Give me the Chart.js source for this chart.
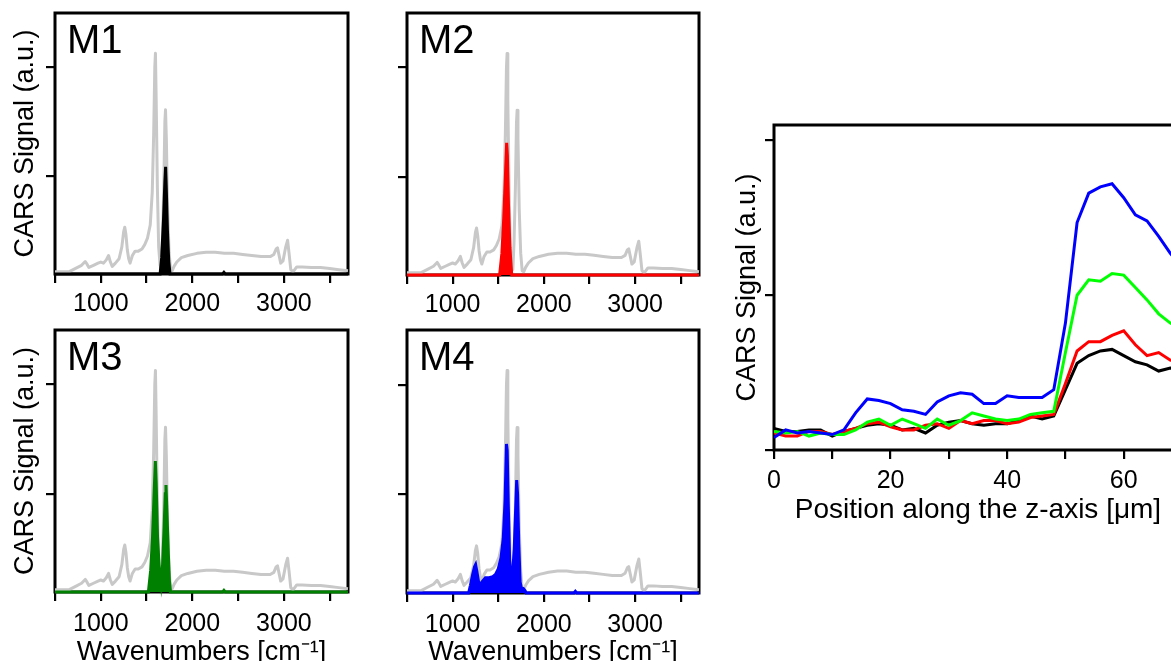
<!DOCTYPE html>
<html><head><meta charset="utf-8">
<script src="https://cdn.jsdelivr.net/npm/chart.js@4.4.0/dist/chart.umd.min.js"></script>
<style>
html,body{margin:0;padding:0;background:#fff;width:1171px;height:661px;overflow:hidden;position:relative;}
canvas{position:absolute;}
</style></head><body>
<canvas id="m1" style="left:0px;top:0px;width:360px;height:330px" width="360" height="330"></canvas>
<canvas id="m2" style="left:360px;top:0px;width:360px;height:330px" width="360" height="330"></canvas>
<canvas id="m3" style="left:0px;top:320px;width:360px;height:350px" width="360" height="350"></canvas>
<canvas id="m4" style="left:360px;top:320px;width:360px;height:350px" width="360" height="350"></canvas>
<canvas id="prof" style="left:700px;top:100px;width:500px;height:440px" width="500" height="440"></canvas>
<script>
// ---------- DATA ----------
const panelLabels = ['M1', 'M2', 'M3', 'M4'];
const specXTicks = [500, 1000, 1500, 2000, 2500, 3000, 3500];
const specXTickLabels = [1000, 2000, 3000];
const specYTicks = [1, 2];

// grey reference spectrum (wavenumber, signal)
const greyWn  = [500,600,650,720,790,830,850,870,920,970,1000,1030,1060,1085,1105,1125,1160,1200,1230,1250,1262,1275,1290,1305,1320,1345,1375,1410,1450,1480,1510,1540,1562,1578,1590,1597,1605,1618,1632,1648,1660,1673,1688,1700,1707,1716,1730,1746,1762,1780,1800,1830,1880,1950,2050,2150,2250,2350,2450,2550,2650,2750,2850,2890,2915,2930,2945,2965,2990,3020,3040,3055,3075,3100,3140,3200,3300,3400,3500,3600,3700];
const greyVal = [0.12,0.12,0.12,0.15,0.18,0.215,0.19,0.16,0.18,0.2,0.21,0.2,0.23,0.27,0.21,0.17,0.2,0.24,0.35,0.49,0.53,0.46,0.32,0.24,0.2,0.27,0.31,0.31,0.33,0.37,0.43,0.55,0.85,1.4,2.0,2.13,1.7,0.9,0.35,0.18,0.15,0.4,0.9,1.5,1.61,1.35,0.7,0.3,0.14,0.13,0.17,0.21,0.25,0.27,0.29,0.3,0.3,0.29,0.29,0.28,0.27,0.26,0.26,0.28,0.33,0.34,0.28,0.2,0.22,0.35,0.41,0.3,0.14,0.12,0.165,0.165,0.16,0.16,0.15,0.14,0.13];

// M1 (black) component
const m1Wn  = [500,1648,1665,1685,1700,1708,1715,1728,1742,1756,2330,2345,2360,3700];
const m1Val = [0.1,0.1,0.25,0.6,0.95,1.085,0.9,0.5,0.22,0.1,0.1,0.115,0.1,0.1];
// M2 (red) component
const m2Wn  = [500,1515,1540,1560,1578,1592,1600,1612,1628,1648,3700];
const m2Val = [0.1,0.1,0.3,0.62,1.0,1.31,1.2,0.75,0.35,0.1,0.1];
// M3 (green) component
const m3Wn  = [500,1520,1545,1565,1582,1596,1605,1620,1640,1658,1675,1692,1704,1712,1722,1738,1750,1762,2330,2345,2360,3700];
const m3Val = [0.1,0.1,0.3,0.6,1.0,1.3,1.1,0.6,0.3,0.18,0.35,0.7,1.0,1.08,0.85,0.45,0.2,0.1,0.1,0.115,0.1,0.1];
// M4 (blue) component
const m4Wn  = [500,1175,1195,1220,1240,1252,1265,1285,1305,1330,1360,1400,1440,1470,1500,1530,1555,1575,1590,1598,1610,1625,1640,1655,1675,1690,1702,1712,1725,1740,1755,1775,1795,1805,2330,2345,2360,3700];
const m4Val = [0.1,0.1,0.17,0.27,0.34,0.36,0.3,0.2,0.18,0.21,0.24,0.24,0.25,0.27,0.32,0.42,0.6,0.95,1.46,1.4,0.9,0.4,0.22,0.25,0.5,0.85,1.13,1.0,0.55,0.2,0.14,0.14,0.12,0.1,0.1,0.115,0.1,0.1];

// depth profile
const positions = [0,2,4,6,8,10,12,14,16,18,20,22,24,26,28,30,32,34,36,38,40,42,44,46,48,50,52,54,56,58,60,62,64,66,68,70];
const profXTicks = [0,10,20,30,40,50,60,70];
const profXTickLabels = [0,20,40,60];
const profYTicks = [0,1,2];
const blueSig  = [0.08,0.13,0.11,0.12,0.11,0.10,0.13,0.24,0.33,0.32,0.30,0.26,0.25,0.23,0.31,0.35,0.37,0.36,0.30,0.30,0.35,0.34,0.34,0.34,0.39,0.82,1.47,1.66,1.70,1.72,1.63,1.52,1.48,1.38,1.27,1.18];
const greenSig = [0.12,0.11,0.12,0.09,0.11,0.10,0.10,0.13,0.18,0.20,0.16,0.20,0.17,0.14,0.20,0.16,0.19,0.24,0.22,0.20,0.19,0.20,0.23,0.24,0.25,0.63,1.00,1.10,1.09,1.14,1.13,1.05,0.97,0.88,0.82,0.78];
const redSig   = [0.11,0.09,0.09,0.12,0.12,0.10,0.12,0.14,0.17,0.18,0.15,0.13,0.13,0.16,0.17,0.14,0.19,0.17,0.19,0.19,0.17,0.18,0.21,0.22,0.23,0.43,0.64,0.70,0.70,0.74,0.77,0.68,0.61,0.63,0.58,0.56];
const blackSig = [0.14,0.12,0.12,0.13,0.13,0.09,0.12,0.14,0.16,0.17,0.16,0.13,0.14,0.11,0.16,0.18,0.19,0.17,0.16,0.17,0.17,0.19,0.22,0.20,0.22,0.39,0.56,0.61,0.64,0.65,0.61,0.57,0.55,0.51,0.53,0.52];

// ---------- RENDER ----------
const FAMILY = "'Liberation Sans', Arial, Helvetica, sans-serif";
Chart.defaults.font.family = FAMILY;
Chart.defaults.color = '#000';

const pts = (xs, ys) => xs.map((x, i) => ({x: x, y: ys[i]}));

const framePlugin = {
  id: 'frame',
  beforeDatasetsDraw(chart) {
    const {ctx, chartArea: a} = chart;
    ctx.save();
    ctx.strokeStyle = '#000';
    ctx.lineWidth = 3;
    ctx.strokeRect(a.left, a.top, a.right - a.left, a.bottom - a.top);
    ctx.restore();
  }
};
const labelPlugin = {
  id: 'panelLabel',
  afterDraw(chart, args, opts) {
    if (!opts || !opts.text) return;
    const {ctx, chartArea: a} = chart;
    ctx.save();
    ctx.fillStyle = '#000';
    ctx.font = '40px ' + FAMILY;
    ctx.textBaseline = 'alphabetic';
    ctx.textAlign = 'left';
    ctx.fillText(opts.text, a.left + 12, a.top + 40);
    ctx.restore();
  }
};

function tickGrid() {
  return {drawOnChartArea: false, drawTicks: true, tickLength: 9, color: '#000', lineWidth: 2.2};
}

function spectrum(id, label, wn, val, color, g) {
  new Chart(document.getElementById(id), {
    type: 'line',
    data: {
      datasets: [
        {data: pts(wn, val), borderColor: color, backgroundColor: color, fill: 'start', borderWidth: 3, pointRadius: 0, tension: 0, clip: false},
        {data: pts(greyWn, greyVal), borderColor: '#c8c8c8', backgroundColor: '#c8c8c8', fill: false, borderWidth: 3, pointRadius: 0, tension: 0, clip: false, borderJoinStyle: 'round'}
      ]
    },
    options: {
      responsive: false, animation: false, devicePixelRatio: 1,
      layout: {padding: {left: 0, right: g.padR, top: g.padT, bottom: 0}},
      plugins: {legend: {display: false}, tooltip: {enabled: false}, panelLabel: {text: label}},
      scales: {
        x: {
          type: 'linear', min: 500, max: 3700,
          afterBuildTicks: s => { s.ticks = specXTicks.map(v => ({value: v})); },
          ticks: {callback: v => specXTickLabels.includes(v) ? String(v) : '', font: {size: 25}, color: '#000', maxRotation: 0, autoSkip: false, padding: g.tp},
          grid: tickGrid(),
          border: {display: false},
          title: {display: g.xTitle, text: 'Wavenumbers [cm\u207B\u00B9]', font: {size: 27, lineHeight: 1}, color: '#000', padding: {top: 0, bottom: 4}},
          afterFit: s => { s.height = g.xh; }
        },
        y: {
          type: 'linear', min: 0.1, max: 2.5,
          afterBuildTicks: s => { s.ticks = specYTicks.map(v => ({value: v})); },
          ticks: {display: false},
          grid: tickGrid(),
          border: {display: false},
          title: {display: g.yTitle, text: 'CARS Signal (a.u.)', font: {size: 27, lineHeight: 1}, color: '#000', padding: {top: 12, bottom: 0}},
          afterFit: s => { s.width = g.yw; }
        }
      }
    },
    plugins: [framePlugin, labelPlugin]
  });
}

spectrum('m1', panelLabels[0], m1Wn, m1Val, '#000000', {yw: 55, padR: 12, padT: 13, xh: 56, tp: 6, xTitle: false, yTitle: true});
spectrum('m2', panelLabels[1], m2Wn, m2Val, '#ff0000', {yw: 47, padR: 21, padT: 13, xh: 55, tp: 6, xTitle: false, yTitle: false});
spectrum('m3', panelLabels[2], m3Wn, m3Val, '#008000', {yw: 55, padR: 12, padT: 10, xh: 78, tp: 8, xTitle: true, yTitle: true});
spectrum('m4', panelLabels[3], m4Wn, m4Val, '#0000ff', {yw: 47, padR: 21, padT: 10, xh: 77, tp: 8, xTitle: true, yTitle: false});

const lineDs = (ys, color) => ({data: pts(positions, ys), borderColor: color, backgroundColor: color, fill: false, borderWidth: 3, pointRadius: 0, tension: 0});

new Chart(document.getElementById('prof'), {
  type: 'line',
  data: {
    datasets: [
      lineDs(blueSig, '#0000ff'),
      lineDs(greenSig, '#00ff00'),
      lineDs(redSig, '#ff0000'),
      lineDs(blackSig, '#000000')
    ]
  },
  options: {
    responsive: false, animation: false, devicePixelRatio: 1,
    layout: {padding: {left: 0, right: 18, top: 25, bottom: 0}},
    plugins: {legend: {display: false}, tooltip: {enabled: false}},
    scales: {
      x: {
        type: 'linear', min: 0, max: 70,
        afterBuildTicks: s => { s.ticks = profXTicks.map(v => ({value: v})); },
        ticks: {callback: v => profXTickLabels.includes(v) ? String(v) : '', font: {size: 25}, color: '#000', maxRotation: 0, autoSkip: false, padding: 7},
        grid: tickGrid(),
        border: {display: false},
        title: {display: true, text: 'Position along the z-axis [\u03BCm]', font: {size: 28, lineHeight: 1}, color: '#000', padding: {top: 0, bottom: 16}},
        afterFit: s => { s.height = 90; }
      },
      y: {
        type: 'linear', min: 0, max: 2.1,
        afterBuildTicks: s => { s.ticks = profYTicks.map(v => ({value: v})); },
        ticks: {display: false},
        grid: tickGrid(),
        border: {display: false},
        title: {display: true, text: 'CARS Signal (a.u.)', font: {size: 27, lineHeight: 1}, color: '#000', padding: {top: 34, bottom: 0}},
        afterFit: s => { s.width = 74; }
      }
    }
  },
  plugins: [framePlugin]
});
</script>
</body></html>
